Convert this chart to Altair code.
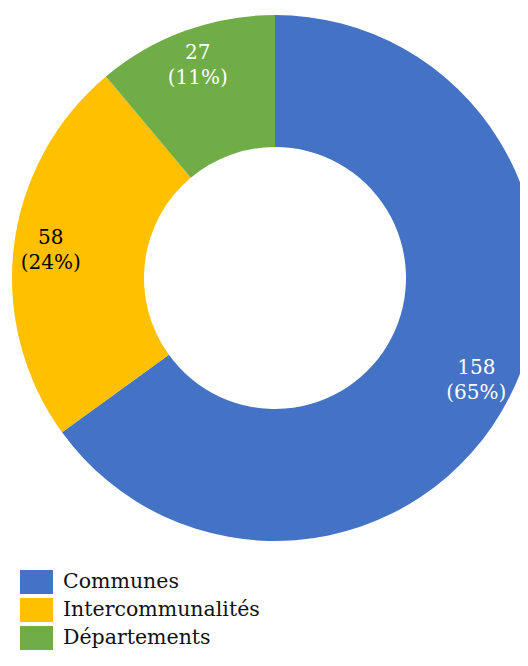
import altair as alt
import pandas as pd

categories = ["Communes", "Intercommunalités", "Départements"]
counts = [158, 58, 27]
colors = ["#4472C4", "#FFC000", "#70AD47"]
label_colors = ["#FFFFFF", "#000000", "#FFFFFF"]

total = sum(counts)
df = pd.DataFrame({
    "categorie": categories,
    "valeur": counts,
    "ordre": list(range(len(categories))),
    "etiquette": [f"{v}\n({round(100 * v / total)}%)" for v in counts],
    "couleur_texte": label_colors,
})

FONT = "DejaVu Serif"

base = alt.Chart(df).encode(
    theta=alt.Theta("valeur:Q", stack=True),
    order=alt.Order("ordre:Q"),
)

arcs = base.mark_arc(outerRadius=263, innerRadius=131).encode(
    color=alt.Color(
        "categorie:N",
        scale=alt.Scale(domain=categories, range=colors),
        legend=alt.Legend(
            title=None,
            orient="none",
            legendX=-5.5,
            legendY=562,
            padding=0,
            symbolType="M-1.375,-1H1.375V1H-1.375Z",
            symbolSize=576,
            symbolStrokeWidth=0,
            symbolOpacity=1,
            labelFont=FONT,
            labelFontSize=20.5,
            labelColor="#111111",
            labelOffset=14.5,
            rowPadding=4,
            labelLimit=400,
        ),
    ),
)

labels = base.mark_text(
    radius=226,
    font=FONT,
    fontSize=20,
    lineBreak="\n",
    lineHeight=25,
    dy=-12.5,
    align="center",
    baseline="middle",
).encode(
    text="etiquette:N",
    color=alt.Color("couleur_texte:N", scale=None),
)

chart = (
    alt.layer(arcs, labels)
    .properties(
        width=490,
        height=540,
        padding={"left": 22, "top": 0, "right": 0, "bottom": 110},
        autosize=alt.AutoSizeParams(type="none"),
    )
    .configure_view(stroke=None)
)

chart.save("out.html", embed_options={"renderer": "svg", "actions": False})
